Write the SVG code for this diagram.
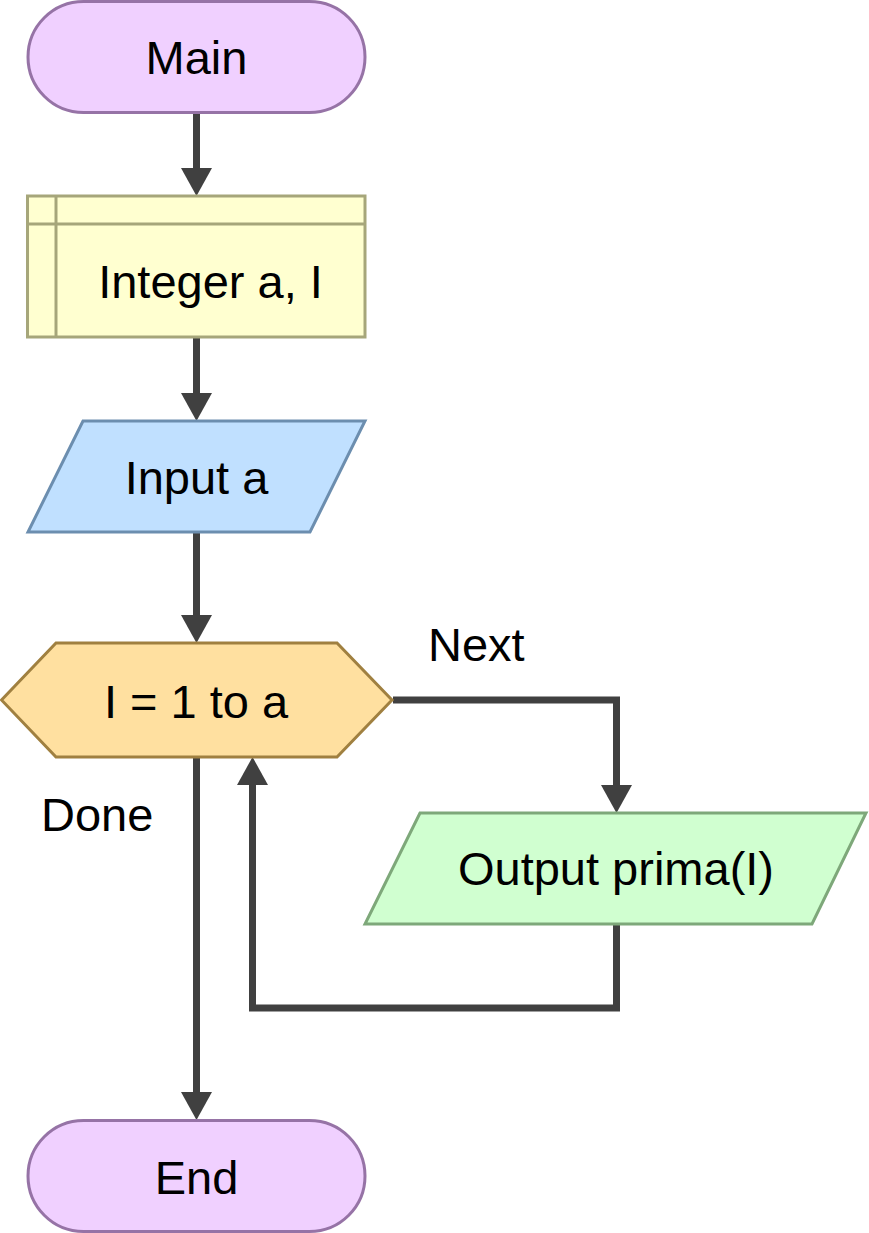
<svg xmlns="http://www.w3.org/2000/svg" width="869" height="1233" viewBox="0 0 869 1233">
<style>
text{font-family:"Liberation Sans",Arial,sans-serif;font-size:47px;fill:#000}
.c{text-anchor:middle}
.term{fill:#F0D0FF;stroke:#9673A6;stroke-width:3}
.decl{fill:#FFFFD0;stroke:#A6A67A;stroke-width:3}
.inp{fill:#C0E0FF;stroke:#6C8EAF;stroke-width:3}
.loop{fill:#FFE0A0;stroke:#A08040;stroke-width:3}
.out{fill:#D0FFD0;stroke:#7EA87A;stroke-width:3}
.edge{fill:none;stroke:#404040;stroke-width:7;marker-end:url(#ah)}
</style>
<defs>
<marker id="ah" viewBox="0 0 28 31" refX="0" refY="15.5" markerWidth="28" markerHeight="31" markerUnits="userSpaceOnUse" orient="auto">
<path d="M0,0 L28,15.5 L0,31 z" fill="#404040"/>
</marker>
</defs>
<g id="connectors">
<path class="edge" d="M196.5,113 V168"/>
<path class="edge" d="M196.5,337 V393"/>
<path class="edge" d="M196.5,532 V615"/>
<path class="edge" d="M393,700 H616.5 V785"/>
<path class="edge" d="M616.5,924 V1008 H252.5 V785"/>
<path class="edge" d="M196.5,757 V1092"/>
</g>
<g id="main">
<rect class="term" x="28" y="1.5" width="337" height="111" rx="55.5"/>
<text class="c" x="196.5" y="74">Main</text>
</g>
<g id="declare">
<rect class="decl" x="27.5" y="196" width="337.5" height="141"/>
<line x1="56" y1="196" x2="56" y2="337" stroke="#A6A67A" stroke-width="3"/>
<line x1="27.5" y1="224" x2="365" y2="224" stroke="#A6A67A" stroke-width="3"/>
<text class="c" x="210.5" y="298">Integer a, I</text>
</g>
<g id="input">
<polygon class="inp" points="83,421 365,421 310,532 28,532"/>
<text class="c" x="196.5" y="494">Input a</text>
</g>
<g id="for">
<polygon class="loop" points="1.5,700 56,643 337,643 392,700 337,757 56,757"/>
<text class="c" x="196" y="718">I = 1 to a</text>
</g>
<g id="output">
<polygon class="out" points="420,813 866,813 812,924 365,924"/>
<text class="c" x="616" y="885">Output prima(I)</text>
</g>
<g id="end">
<rect class="term" x="28" y="1120.5" width="337" height="111" rx="55.5"/>
<text class="c" x="196.5" y="1194">End</text>
</g>
<g id="labels">
<text x="428" y="661">Next</text>
<text x="41" y="831">Done</text>
</g>
</svg>
